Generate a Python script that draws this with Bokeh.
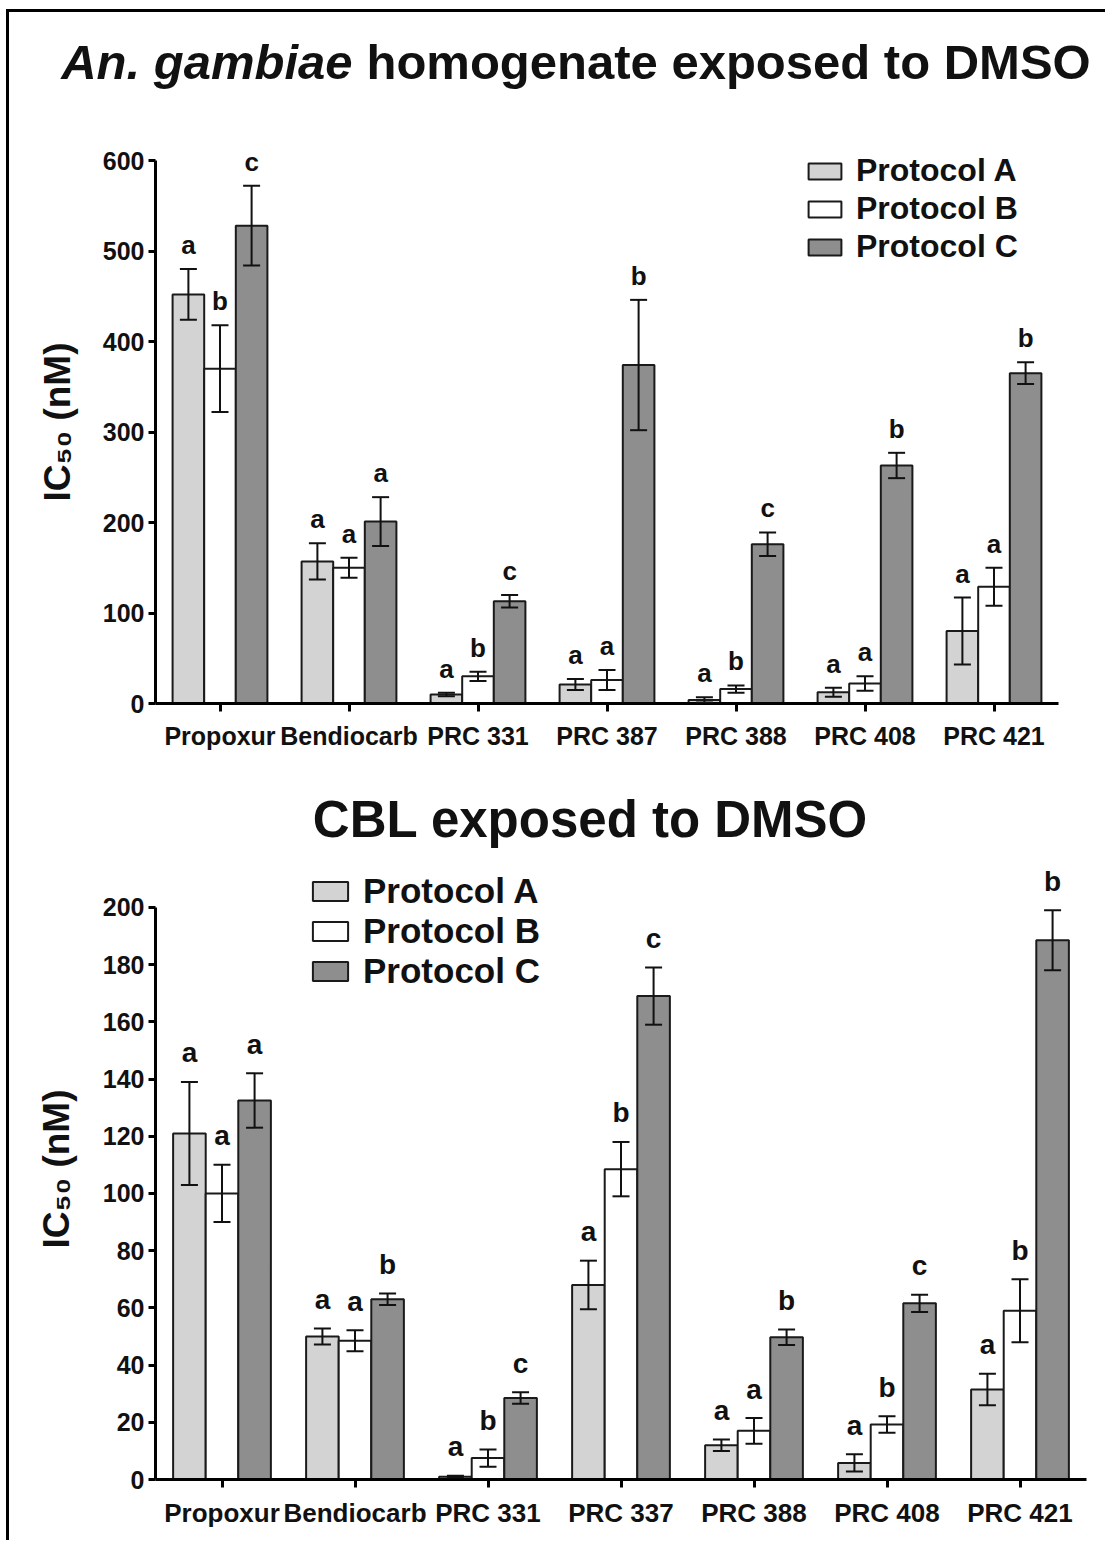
from bokeh.plotting import figure
from bokeh.models import (ColumnDataSource, FactorRange, Range1d, Whisker, TeeHead,
                          Legend, LegendItem, Label, FixedTicker)
from bokeh.transform import dodge
from bokeh.layouts import column
from bokeh.core.properties import value
from bokeh.embed import file_html
from bokeh.resources import INLINE

FONT = "Liberation Sans"
INK = "#111111"

protocols = ["Protocol A", "Protocol B", "Protocol C"]
colors = ["#d3d3d3", "#ffffff", "#8e8e8e"]

# ---- Top panel: An. gambiae homogenate exposed to DMSO ----
top_categories = ["Propoxur", "Bendiocarb", "PRC 331", "PRC 387", "PRC 388", "PRC 408", "PRC 421"]
top_a = [452, 157, 10, 21, 4, 12.5, 80]
top_a_err = [28, 20, 2, 6, 3, 5, 37]
top_b = [370, 150, 30, 26, 16, 22, 129]
top_b_err = [48, 11, 5, 11, 4, 8, 21]
top_c = [528, 201, 113, 374, 176, 263, 365]
top_c_err = [44, 27, 7, 72, 13, 14, 12]
top_a_letters = ["a", "a", "a", "a", "a", "a", "a"]
top_b_letters = ["b", "a", "b", "a", "b", "a", "a"]
top_c_letters = ["c", "a", "c", "b", "c", "b", "b"]
top_y_ticks = [0, 100, 200, 300, 400, 500, 600]

# ---- Bottom panel: CBL exposed to DMSO ----
bot_categories = ["Propoxur", "Bendiocarb", "PRC 331", "PRC 337", "PRC 388", "PRC 408", "PRC 421"]
bot_a = [121, 50, 1, 68, 12, 5.8, 31.5]
bot_a_err = [18, 2.8, 0.3, 8.5, 2, 3, 5.5]
bot_b = [100, 48.5, 7.5, 108.5, 17, 19.2, 59]
bot_b_err = [10, 3.7, 3, 9.5, 4.5, 2.9, 11]
bot_c = [132.5, 63, 28.5, 169, 49.7, 61.6, 188.5]
bot_c_err = [9.5, 2, 2, 10, 2.7, 3, 10.5]
bot_a_letters = ["a", "a", "a", "a", "a", "a", "a"]
bot_b_letters = ["a", "a", "b", "b", "a", "b", "b"]
bot_c_letters = ["a", "b", "c", "c", "b", "c", "b"]
bot_y_ticks = [0, 20, 40, 60, 80, 100, 120, 140, 160, 180, 200]

W = 1096


def title_fig(height):
    p = figure(width=W, height=height, x_range=Range1d(0, W), y_range=Range1d(0, height),
               output_backend="svg", toolbar_location=None,
               x_axis_location=None, y_axis_location=None, min_border=0,
               outline_line_color=None)
    p.frame_align = False
    p.xgrid.visible = False
    p.ygrid.visible = False
    return p


def build(cats, vals, errs, lets, height, mbr, mbb, y_end, y_ticks,
          tick_size, cat_size, letter_size, letter_gap, legend_loc, legend_size,
          glyph_w, glyph_h, legend_spacing, legend_standoff, axis_label_standoff):
    p = figure(x_range=FactorRange(factors=cats, range_padding=0),
               y_range=Range1d(0, y_end), width=W, height=height,
               output_backend="svg", toolbar_location=None,
               min_border_left=146, min_border_right=mbr, min_border_top=0,
               min_border_bottom=mbb, outline_line_color=None)
    p.frame_align = False
    p.xgrid.visible = False
    p.ygrid.visible = False
    frame_h = height - mbb
    ppu = frame_h / y_end

    ya = p.yaxis[0]
    ya.bounds = (0, y_ticks[-1])
    ya.ticker = FixedTicker(ticks=y_ticks)
    ya.minor_tick_line_color = None
    ya.major_tick_in = 0
    ya.major_tick_out = 7
    ya.axis_line_width = 3
    ya.major_tick_line_width = 3
    ya.major_label_text_font = FONT
    ya.major_label_text_font_style = "bold"
    ya.major_label_text_font_size = tick_size
    ya.major_label_text_color = INK
    ya.major_label_standoff = 4
    ya.axis_label = "IC\u2085\u2080 (nM)"
    ya.axis_label_text_font = FONT
    ya.axis_label_text_font_style = "bold"
    ya.axis_label_text_font_size = "37px"
    ya.axis_label_text_color = INK
    ya.axis_label_standoff = axis_label_standoff

    xa = p.xaxis[0]
    xa.major_tick_in = 0
    xa.major_tick_out = 8
    xa.axis_line_width = 3
    xa.major_tick_line_width = 3
    xa.minor_tick_line_color = None
    xa.major_label_text_font = FONT
    xa.major_label_text_font_style = "bold"
    xa.major_label_text_font_size = cat_size
    xa.major_label_text_color = INK
    xa.major_label_standoff = 10

    offsets = [-0.245, 0.0, 0.245]
    items = []
    for k in range(3):
        upper = [v + e for v, e in zip(vals[k], errs[k])]
        lower = [v - e for v, e in zip(vals[k], errs[k])]
        ly = [u + letter_gap / ppu for u in upper]
        src = ColumnDataSource(dict(cat=cats, val=vals[k], upper=upper, lower=lower,
                                    let=lets[k], ly=ly))
        r = p.vbar(x=dodge("cat", offsets[k], range=p.x_range), top="val", bottom=0,
                   width=0.245, source=src, fill_color=colors[k],
                   line_color="#1a1a1a", line_width=2)
        w = Whisker(base=dodge("cat", offsets[k], range=p.x_range), upper="upper",
                    lower="lower", source=src, level="overlay",
                    line_width=2, line_color=INK,
                    upper_head=TeeHead(size=17, line_width=2, line_color=INK),
                    lower_head=TeeHead(size=17, line_width=2, line_color=INK))
        p.add_layout(w)
        p.text(x=dodge("cat", offsets[k], range=p.x_range), y="ly", text="let",
               source=src, text_font=value(FONT), text_font_style="bold",
               text_font_size=letter_size, text_align="center",
               text_baseline="middle", text_color=INK)
        items.append(LegendItem(label=protocols[k], renderers=[r]))

    legend = Legend(items=items, location=legend_loc, orientation="vertical",
                    label_text_font=FONT, label_text_font_style="bold",
                    label_text_font_size=legend_size, label_text_color=INK,
                    glyph_width=glyph_w, glyph_height=glyph_h, spacing=legend_spacing,
                    padding=0, margin=0, border_line_color=None,
                    background_fill_alpha=0, label_standoff=legend_standoff)
    p.add_layout(legend)
    return p


# top title
t1 = title_fig(128)
t1.add_layout(Label(x=343, y=79, text="An. gambiae", text_align="right",
                    text_font=FONT, text_font_style="bold italic", text_font_size="49px",
                    text_baseline="middle", text_color=INK))
t1.add_layout(Label(x=357, y=79, text="homogenate exposed to DMSO", text_align="left",
                    text_font=FONT, text_font_style="bold",
                    text_font_size="49px", text_baseline="middle", text_color=INK))

c1 = build(top_categories, [top_a, top_b, top_c], [top_a_err, top_b_err, top_c_err],
           [top_a_letters, top_b_letters, top_c_letters],
           height=642, mbr=47, mbb=79, y_end=622.1,
           y_ticks=top_y_ticks, tick_size="25px", cat_size="25px", letter_size="26px",
           letter_gap=24, legend_loc=(649, 438), legend_size="32px",
           glyph_w=41, glyph_h=20, legend_spacing=1, legend_standoff=11,
           axis_label_standoff=22)

# bottom title
t2 = title_fig(76)
t2.add_layout(Label(x=581, y=39, text="CBL exposed to DMSO", text_align="center",
                    text_font=FONT, text_font_style="bold", text_font_size="51px",
                    text_baseline="middle", text_color=INK))

c2 = build(bot_categories, [bot_a, bot_b, bot_c], [bot_a_err, bot_b_err, bot_c_err],
           [bot_a_letters, bot_b_letters, bot_c_letters],
           height=682, mbr=19, mbb=61, y_end=217.1,
           y_ticks=bot_y_ticks, tick_size="25px", cat_size="26px", letter_size="28px",
           letter_gap=29, legend_loc=(153, 488), legend_size="35px",
           glyph_w=44, glyph_h=24, legend_spacing=0, legend_standoff=11,
           axis_label_standoff=23)

layout = column(t1, c1, t2, c2, margin=(9, 0, 0, 6),
                styles={"border-left": "3px solid #000000",
                        "border-top": "3px solid #000000"})

open("out.html", "w").write(file_html(layout, INLINE))
